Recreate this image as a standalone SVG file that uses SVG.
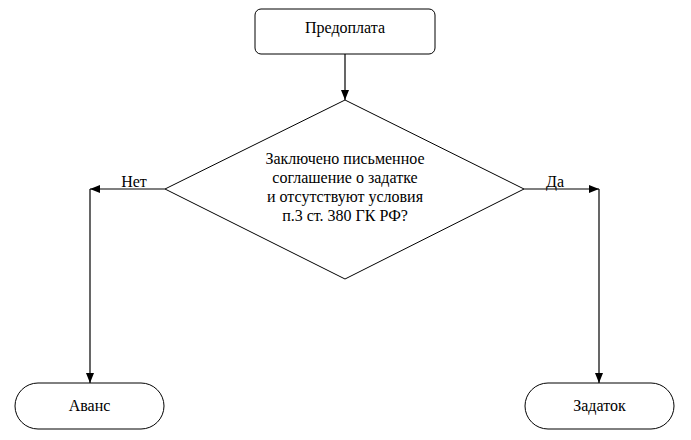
<svg xmlns="http://www.w3.org/2000/svg" width="691" height="440" viewBox="0 0 691 440">
<style>
.shape{fill:#fff;stroke:#000;stroke-width:1}
.line{fill:none;stroke:#000;stroke-width:1.2}
</style>
<defs>
<marker id="ah" viewBox="0 0 10 8" refX="10" refY="4" markerWidth="10" markerHeight="8" markerUnits="userSpaceOnUse" orient="auto">
<path d="M0,0 L10,4 L0,8 Z" fill="#000"/>
</marker>
</defs>
<rect width="691" height="440" fill="#fff"/>
<g font-family="Liberation Serif, Times New Roman, serif" font-size="16" fill="#000" text-anchor="middle">
<g id="connectors">
<path class="line" d="M345,54 V100" marker-end="url(#ah)"/>
<path class="line" d="M165,189 H90" marker-end="url(#ah)"/>
<path class="line" d="M90,189 V383" marker-end="url(#ah)"/>
<path class="line" d="M524,189 H599" marker-end="url(#ah)"/>
<path class="line" d="M599,189 V383" marker-end="url(#ah)"/>
<text x="134" y="187">Нет</text>
<text x="555" y="187">Да</text>
</g>
<g id="start">
<rect class="shape" x="255" y="9" width="180" height="45" rx="6"/>
<text x="345" y="33">Предоплата</text>
</g>
<g id="decision">
<polygon class="shape" points="345,100 524,189 345,279 165,189"/>
<text x="345" y="164">Заключено письменное</text>
<text x="345" y="183">соглашение о задатке</text>
<text x="345" y="202">и отсутствуют условия</text>
<text x="345" y="221">п.3 ст. 380 ГК РФ?</text>
</g>
<g id="avans">
<rect class="shape" x="15" y="383" width="149" height="46" rx="23"/>
<text x="89.5" y="411">Аванс</text>
</g>
<g id="zadatok">
<rect class="shape" x="525" y="383" width="149" height="46" rx="23"/>
<text x="599.5" y="411">Задаток</text>
</g>
</g>
</svg>
